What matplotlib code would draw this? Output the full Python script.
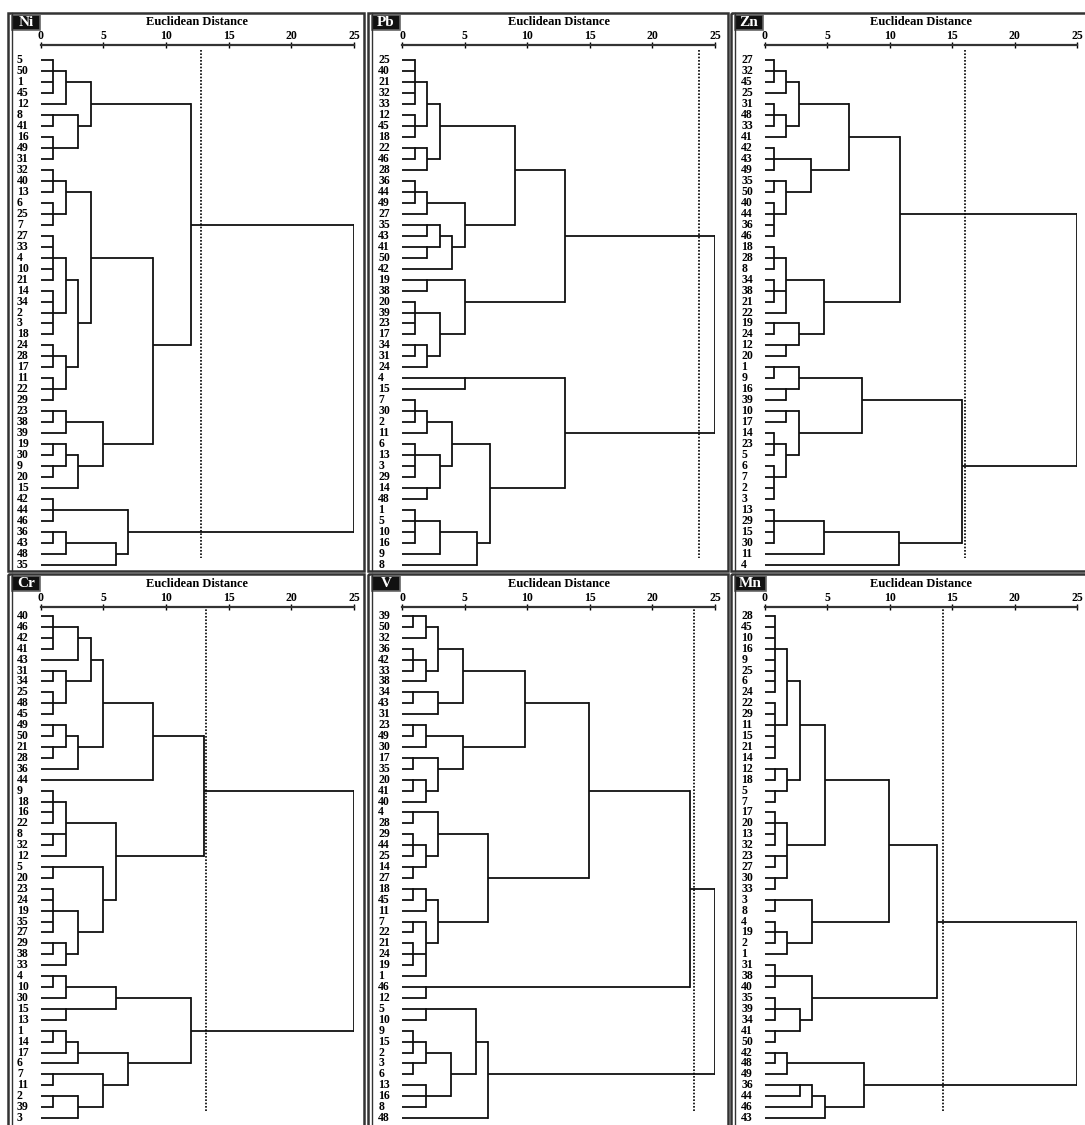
import math
import matplotlib
matplotlib.use('Agg')
import matplotlib.pyplot as plt
from matplotlib.patches import Rectangle

plt.rcParams['font.family'] = ['Liberation Serif', 'DejaVu Serif']

# leaf order (top to bottom) and merges: (first leaf index, last leaf index, rescaled distance)
ni_leaves = [5, 50, 1, 45, 12, 8, 41, 16, 49, 31, 32, 40, 13, 6, 25, 7, 27, 33, 4, 10, 21, 14, 34, 2, 3, 18,
             24, 28, 17, 11, 22, 29, 23, 38, 39, 19, 30, 9, 20, 15, 42, 44, 46, 36, 43, 48, 35]
ni_merges = [(0, 3, 1.0), (0, 4, 2.0), (5, 6, 1.0), (7, 9, 1.0), (5, 9, 3.0), (0, 9, 4.0),
             (10, 12, 1.0), (13, 15, 1.0), (10, 15, 2.0), (16, 20, 1.0), (21, 25, 1.0), (16, 25, 2.0),
             (26, 28, 1.0), (29, 31, 1.0), (26, 31, 2.0), (16, 31, 3.0), (10, 31, 4.0),
             (32, 33, 1.0), (32, 34, 2.0), (35, 36, 1.0), (37, 38, 1.0), (35, 38, 2.0), (35, 39, 3.0),
             (32, 39, 5.0), (10, 39, 9.0), (0, 39, 12.0),
             (40, 42, 1.0), (43, 44, 1.0), (43, 45, 2.0), (43, 46, 6.0), (40, 46, 7.0), (0, 46, 25.0)]
ni_cut = 12.8

pb_leaves = [25, 40, 21, 32, 33, 12, 45, 18, 22, 46, 28, 36, 44, 49, 27, 35, 43, 41, 50, 42, 19, 38, 20, 39,
             23, 17, 34, 31, 24, 4, 15, 7, 30, 2, 11, 6, 13, 3, 29, 14, 48, 1, 5, 10, 16, 9, 8]
pb_merges = [(0, 4, 1.0), (5, 7, 1.0), (0, 7, 2.0), (8, 9, 1.0), (8, 10, 2.0), (0, 10, 3.0),
             (11, 13, 1.0), (11, 14, 2.0), (15, 16, 2.0), (17, 18, 2.0), (15, 18, 3.0), (15, 19, 4.0),
             (11, 19, 5.0), (0, 19, 9.0),
             (20, 21, 2.0), (22, 25, 1.0), (26, 27, 1.0), (26, 28, 2.0), (22, 28, 3.0), (20, 28, 5.0),
             (0, 28, 13.0),
             (29, 30, 5.0), (31, 33, 1.0), (31, 34, 2.0), (35, 38, 1.0), (39, 40, 2.0), (35, 40, 3.0),
             (31, 40, 4.0), (41, 44, 1.0), (41, 45, 3.0), (41, 46, 6.0), (31, 46, 7.0), (29, 46, 13.0),
             (0, 46, 25.0)]
pb_cut = 23.7

zn_leaves = [27, 32, 45, 25, 31, 48, 33, 41, 42, 43, 49, 35, 50, 40, 44, 36, 46, 18, 28, 8, 34, 38, 21, 22,
             19, 24, 12, 20, 1, 9, 16, 39, 10, 17, 14, 23, 5, 6, 7, 2, 3, 13, 29, 15, 30, 11, 4]
zn_merges = [(0, 2, 0.7), (0, 3, 1.7), (4, 6, 0.7), (4, 7, 1.7), (0, 7, 2.7),
             (8, 10, 0.7), (11, 12, 0.7), (13, 16, 0.7), (11, 16, 1.7), (8, 16, 3.7), (0, 16, 6.7),
             (17, 19, 0.7), (20, 22, 0.7), (17, 23, 1.7), (24, 25, 0.7), (26, 27, 1.7), (24, 27, 2.7),
             (17, 27, 4.7), (0, 27, 10.8),
             (28, 29, 0.7), (30, 31, 1.7), (28, 31, 2.7), (32, 33, 1.7), (34, 36, 0.7), (37, 40, 0.7),
             (34, 40, 1.7), (32, 40, 2.7), (28, 40, 7.8),
             (41, 44, 0.7), (41, 45, 4.7), (41, 46, 10.7), (28, 46, 15.8), (0, 46, 25.0)]
zn_cut = 16.0

cr_leaves = [40, 46, 42, 41, 43, 31, 34, 25, 48, 45, 49, 50, 21, 28, 36, 44, 9, 18, 16, 22, 8, 32, 12, 5,
             20, 23, 24, 19, 35, 27, 29, 38, 33, 4, 10, 30, 15, 13, 1, 14, 17, 6, 7, 11, 2, 39, 3]
cr_merges = [(0, 3, 1.0), (0, 4, 3.0), (5, 6, 1.0), (7, 9, 1.0), (5, 9, 2.0), (0, 9, 4.0),
             (10, 11, 1.0), (12, 13, 1.0), (10, 13, 2.0), (10, 14, 3.0), (0, 14, 5.0), (0, 15, 9.0),
             (16, 19, 1.0), (20, 21, 1.0), (16, 22, 2.0), (23, 24, 1.0), (25, 29, 1.0), (30, 31, 1.0),
             (30, 32, 2.0), (25, 32, 3.0), (23, 32, 5.0), (16, 32, 6.0), (0, 32, 13.0),
             (33, 34, 1.0), (33, 35, 2.0), (36, 37, 2.0), (33, 37, 6.0), (38, 39, 1.0), (38, 40, 2.0),
             (38, 41, 3.0), (42, 43, 1.0), (44, 45, 1.0), (44, 46, 3.0), (42, 46, 5.0), (38, 46, 7.0),
             (33, 46, 12.0), (0, 46, 25.0)]
cr_cut = 13.2

v_leaves = [39, 50, 32, 36, 42, 33, 38, 34, 43, 31, 23, 49, 30, 17, 35, 20, 41, 40, 4, 28, 29, 44, 25, 14,
            27, 18, 45, 11, 7, 22, 21, 24, 19, 1, 46, 12, 5, 10, 9, 15, 2, 3, 6, 13, 16, 8, 48]
v_merges = [(0, 1, 0.9), (0, 2, 1.9), (3, 5, 0.9), (3, 6, 1.9), (0, 6, 2.9), (7, 8, 0.9), (7, 9, 2.9),
            (0, 9, 4.9), (10, 11, 0.9), (10, 12, 1.9), (13, 14, 0.9), (15, 16, 0.9), (15, 17, 1.9),
            (13, 17, 2.9), (10, 17, 4.9), (0, 17, 9.8),
            (18, 19, 0.9), (20, 22, 0.9), (23, 24, 0.9), (20, 24, 1.9), (18, 24, 2.9),
            (25, 26, 0.9), (25, 27, 1.9), (28, 29, 0.9), (30, 32, 0.9), (28, 33, 1.9), (25, 33, 2.9),
            (18, 33, 6.9), (0, 33, 14.9), (34, 35, 1.9), (0, 35, 23.0),
            (36, 37, 1.9), (38, 40, 0.9), (41, 42, 0.9), (38, 42, 1.9), (43, 45, 1.9), (38, 45, 3.9),
            (36, 45, 5.9), (36, 46, 6.9), (0, 46, 25.0)]
v_cut = 23.3

mn_leaves = [28, 45, 10, 16, 9, 25, 6, 24, 22, 29, 11, 15, 21, 14, 12, 18, 5, 7, 17, 20, 13, 32, 23, 27,
             30, 33, 3, 8, 4, 19, 2, 1, 31, 38, 40, 35, 39, 34, 41, 50, 42, 48, 49, 36, 44, 46, 43]
mn_merges = [(0, 7, 0.8), (8, 13, 0.8), (0, 13, 1.8), (14, 15, 0.8), (16, 17, 0.8), (14, 17, 1.8),
             (0, 17, 2.8), (18, 21, 0.8), (22, 23, 0.8), (24, 25, 0.8), (18, 25, 1.8), (0, 25, 4.8),
             (26, 27, 0.8), (28, 30, 0.8), (28, 31, 1.8), (26, 31, 3.8), (0, 31, 9.9),
             (32, 34, 0.8), (35, 37, 0.8), (38, 39, 0.8), (35, 39, 2.8), (32, 39, 3.8), (0, 39, 13.8),
             (40, 41, 0.8), (40, 42, 1.8), (43, 44, 2.8), (43, 45, 3.8), (43, 46, 4.8), (40, 46, 7.9),
             (0, 46, 25.0)]
mn_cut = 14.3

panels = [('Ni', ni_leaves, ni_merges, ni_cut), ('Pb', pb_leaves, pb_merges, pb_cut),
          ('Zn', zn_leaves, zn_merges, zn_cut), ('Cr', cr_leaves, cr_merges, cr_cut),
          ('V', v_leaves, v_merges, v_cut), ('Mn', mn_leaves, mn_merges, mn_cut)]


def draw_tree(ax, n, merges):
    owner = list(range(n))
    pos = {i: (0.0, float(i)) for i in range(n)}
    for k, (a, b, h) in enumerate(sorted(merges, key=lambda m: m[1] - m[0])):
        kids = []
        for i in range(a, b + 1):
            if owner[i] not in kids:
                kids.append(owner[i])
        ys = []
        for c in kids:
            x, y = pos[c]
            ax.plot([x, h], [y, y], color='#111111', lw=1.3, solid_capstyle='butt')
            ys.append(y)
        ax.plot([h, h], [min(ys), max(ys)], color='#111111', lw=1.3, solid_capstyle='projecting')
        node = ('node', k)
        pos[node] = (h, math.floor((ys[0] + ys[-1]) / 2))
        for i in range(a, b + 1):
            owner[i] = node


W, H = 1085, 1125
fig = plt.figure(figsize=(W / 100, H / 100), dpi=100)
bg = fig.add_axes([0, 0, 1, 1])
bg.set_xlim(0, W)
bg.set_ylim(H, 0)
bg.axis('off')

# pixel layout: (box left, box right, x of 0, x of 25) and (box top, box bottom, axis y, first leaf y, last leaf y)
cols = [(8, 364, 40.7, 354), (368, 728, 402, 715), (731, 1092, 765, 1077)]
rows = [(13, 571, 45, 60, 565), (574, 1132, 607, 616, 1118)]

for k, (name, leaves, merges, cut) in enumerate(panels):
    bx0, bx1, x0, x25 = cols[k % 3]
    by0, by1, ay, fy, ly = rows[k // 3]

    bg.add_patch(Rectangle((bx0, by0), bx1 - bx0, by1 - by0, fill=False, lw=1.8, ec='#333333'))
    bg.plot([bx0 + 3.5, bx0 + 3.5], [by0, by1], color='#333333', lw=1.0)
    tag_w = 31 if name == 'Mn' else 28
    bg.add_patch(Rectangle((bx0 + 4, by0 + 2), tag_w, 15, fc='#111111', ec='#666666', lw=1.2))
    bg.text(bx0 + 4 + tag_w / 2, by0 + 9.5, name, color='white', fontsize=11, fontweight='bold',
            ha='center', va='center')
    bg.text((x0 + x25) / 2, ay - 23, 'Euclidean Distance', fontsize=9, fontweight='bold',
            ha='center', va='center')

    n = len(leaves)
    step = (ly - fy) / (n - 1)
    bottom = min(by1 - 3, H)
    ax = fig.add_axes([x0 / W, 1 - bottom / H, (x25 - x0) / W, (bottom - ay) / H])
    ax.patch.set_alpha(0)
    ax.set_xlim(0, 25)
    ax.set_ylim((bottom - fy) / step, (ay - fy) / step)
    for side in ['left', 'right', 'bottom']:
        ax.spines[side].set_visible(False)
    ax.spines['top'].set_linewidth(1.6)
    ax.spines['top'].set_color('#333333')
    ax.xaxis.tick_top()
    ax.set_xticks([0, 5, 10, 15, 20, 25])
    ax.tick_params(axis='x', direction='inout', length=4, width=1, pad=0.5, labelsize=8.5)
    for lbl in ax.get_xticklabels():
        lbl.set_fontweight('bold')
    ax.set_yticks([])

    for i, lab in enumerate(leaves):
        ax.text(-1.9, i, str(lab), ha='left', va='center', fontsize=8.5, fontweight='bold', clip_on=False)

    draw_tree(ax, n, merges)
    ax.plot([cut, cut], [-0.9, 45.4], color='k', lw=1.2, ls=(0, (1.0, 1.0)))

fig.savefig('out.png', dpi=100)
